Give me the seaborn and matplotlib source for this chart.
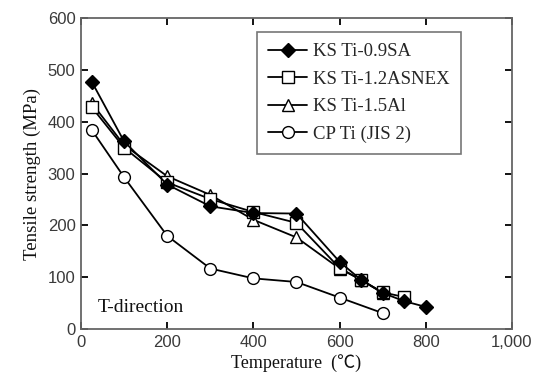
import matplotlib
matplotlib.use('agg')
import matplotlib.pyplot as plt
import numpy as np
import pandas as pd
import seaborn as sns
from matplotlib.ticker import FuncFormatter

# data
temp_sa = [25, 100, 200, 300, 400, 500, 600, 650, 700, 750, 800]
ts_sa = [477, 362, 279, 237, 224, 223, 130, 95, 70, 54, 43]

temp_asnex = [25, 100, 200, 300, 400, 500, 600, 650, 700, 750]
ts_asnex = [428, 350, 283, 251, 226, 205, 118, 95, 71, 62]

temp_al = [25, 100, 200, 300, 400, 500, 600, 650, 700]
ts_al = [436, 355, 295, 259, 211, 177, 117, 95, 70]

temp_cp = [25, 100, 200, 300, 400, 500, 600, 700]
ts_cp = [384, 293, 180, 117, 98, 91, 61, 31]

labels = ['KS Ti-0.9SA', 'KS Ti-1.2ASNEX', 'KS Ti-1.5Al', 'CP Ti (JIS 2)']

sns.set_style("ticks")
serif = ['Liberation Serif', 'DejaVu Serif']
sans = 'Liberation Sans'

fig, ax = plt.subplots(figsize=(5.44, 3.85), dpi=100)
fig.subplots_adjust(left=0.149, right=0.941, bottom=0.145, top=0.953)

series = [
    (temp_sa, ts_sa, 'D', 'black', 7.5),
    (temp_asnex, ts_asnex, 's', 'white', 8),
    (temp_al, ts_al, '^', 'white', 9),
    (temp_cp, ts_cp, 'o', 'white', 8.5),
]
# draw the CP line first so the alloy curves sit on top
for (x, y, m, fc, ms), lab in reversed(list(zip(series, labels))):
    df = pd.DataFrame({'Temperature': x, 'Strength': y})
    sns.lineplot(data=df, x='Temperature', y='Strength', ax=ax, color='black',
                 linewidth=1.3, marker=m, markersize=ms, markerfacecolor=fc,
                 markeredgecolor='black', markeredgewidth=1.0, label=lab)

ax.set_xlim(0, 1000)
ax.set_ylim(0, 600)
ax.set_xticks(np.arange(0, 1001, 200))
ax.set_yticks(np.arange(0, 601, 100))
ax.xaxis.set_major_formatter(FuncFormatter(lambda v, p: f'{int(v):,}'))
ax.tick_params(direction='in', top=True, right=True, length=5, width=1.3,
               color='black', labelsize=12, labelcolor='#3a3a3a', pad=4)
for t in ax.get_xticklabels() + ax.get_yticklabels():
    t.set_family(sans)
for s in ax.spines.values():
    s.set_color('#666666')
    s.set_linewidth(1.3)

ax.set_xlabel('Temperature  (\u2103)', family=['Liberation Serif', 'Noto Sans CJK JP'],
              fontsize=13, color='#111111', labelpad=3)
ax.set_ylabel('Tensile strength (MPa)', family=serif, fontsize=13.5,
              color='#111111', labelpad=5)
ax.text(0.038, 0.055, 'T-direction', transform=ax.transAxes, family=serif,
        fontsize=14, color='#111111')

handles, labs = ax.get_legend_handles_labels()
leg = ax.legend(handles[::-1], labs[::-1], loc='upper left',
                bbox_to_anchor=(0.408, 0.955), prop={'family': serif, 'size': 13.5},
                frameon=True, fancybox=False, edgecolor='#555555',
                handlelength=2.1, borderpad=0.6, labelspacing=0.55,
                handletextpad=0.3, borderaxespad=0)
leg.get_frame().set_linewidth(1.2)

fig.savefig('out.png', dpi=100)
plt.close(fig)
